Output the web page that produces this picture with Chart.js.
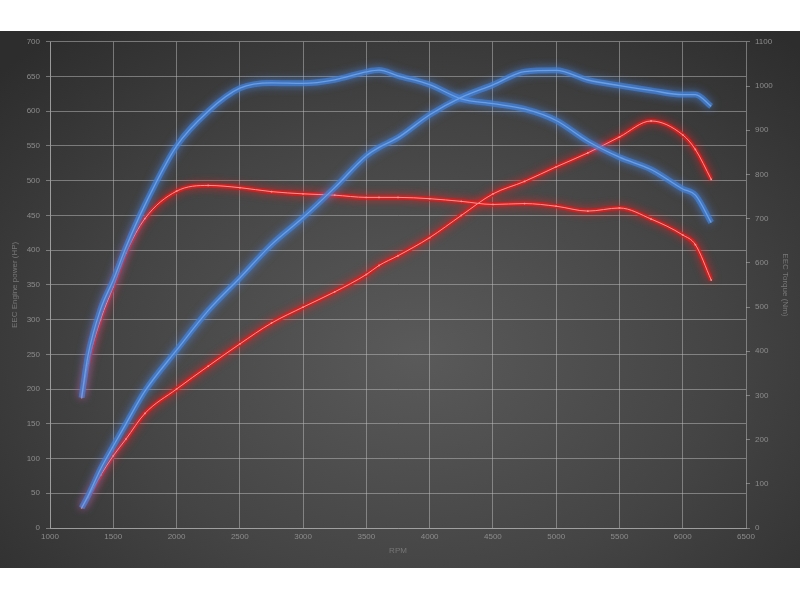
<!DOCTYPE html>
<html>
<head>
<meta charset="utf-8">
<script src="https://cdn.jsdelivr.net/npm/chart.js@4.4.0/dist/chart.umd.min.js"></script>
<style>
html, body { margin: 0; padding: 0; background: #fff; }
#wrap {
    position: absolute; left: 0; top: 31px; width: 800px; height: 537px;
    background: radial-gradient(ellipse 70% 78% at 52% 60%, #5a5a5a 0%, #444 55%, #2d2d2d 100%);
}
canvas { display: block; }
</style>
</head>
<body>
<div id="wrap"><canvas id="dyno" width="800" height="537"></canvas></div>
<script>
// Dyno run: rpm steps and curves
const rpm = [1250, 1300, 1400, 1500, 1600, 1750, 2000, 2250, 2500, 2750, 3000, 3250, 3500, 3600, 3750, 4000, 4250, 4500, 4750, 5000, 5250, 5500, 5750, 6000, 6100, 6225];

// power in HP (left axis)
const powerBlue = [29, 46, 85, 118, 150, 197, 256, 313, 360, 408, 447, 490, 536, 548, 562, 595, 620, 638, 657, 659, 645, 637, 630, 624, 624, 607];
const powerRed = [29, 44, 76, 104, 128, 165, 200, 233, 265, 295, 318, 340, 365, 378, 392, 418, 450, 481, 499, 520, 540, 563, 586, 566, 545, 502];

// torque in Nm (right axis)
const torqueBlue = [295, 390, 495, 561, 635, 731, 864, 943, 995, 1007, 1006, 1014, 1032, 1036, 1023, 1003, 971, 960, 948, 922, 875, 839, 811, 767, 753, 691];
const torqueRed = [295, 372, 472, 546, 622, 700, 762, 775, 770, 761, 756, 753, 748, 748, 748, 745, 739, 732, 734, 728, 717, 724, 699, 663, 641, 561];

const xTicks = [1000, 6500, 500];
const hpTicks = [0, 700, 50];
const nmTicks = [0, 1100, 100];

function points(values) {
    return rpm.map((r, i) => ({ x: r, y: values[i] }));
}

// soft glow behind the lines
const glowPlugin = {
    id: 'glow',
    beforeDatasetDraw(chart, args) {
        const ds = chart.data.datasets[args.index];
        chart.ctx.save();
        if (ds.glowColor) {
            chart.ctx.shadowColor = ds.glowColor;
            chart.ctx.shadowBlur = ds.glowBlur || 8;
        }
    },
    afterDatasetDraw(chart) {
        chart.ctx.restore();
    }
};

function glowLine(values, axis, color, glow, width, order) {
    return {
        data: points(values), yAxisID: axis,
        borderColor: color, borderWidth: width,
        glowColor: glow, glowBlur: 9,
        pointRadius: 0, cubicInterpolationMode: 'monotone',
        order: order
    };
}

function coreLine(values, axis, color, width, dots, order) {
    return {
        data: points(values), yAxisID: axis,
        borderColor: color, borderWidth: width,
        pointRadius: dots ? 0.9 : 0, pointBackgroundColor: color, pointBorderWidth: 0,
        cubicInterpolationMode: 'monotone',
        order: order
    };
}

const plain = v => v; // no thousands separator on the ticks

Chart.defaults.font.family = "'Liberation Sans', Arial, sans-serif";
Chart.defaults.font.size = 8;
Chart.defaults.color = '#8c8c8c';

const gridColor = 'rgba(190, 190, 190, 0.5)';

const ctx = document.getElementById('dyno').getContext('2d');
const dynoChart = new Chart(ctx, {
    type: 'line',
    data: {
        datasets: [
            coreLine(powerBlue, 'y', '#6c9fe2', 1.3, false, 1),
            coreLine(torqueBlue, 'y1', '#6c9fe2', 1.3, false, 1),
            glowLine(powerBlue, 'y', 'rgba(66, 128, 218, 0.75)', 'rgba(80, 150, 255, 0.85)', 6, 2),
            glowLine(torqueBlue, 'y1', 'rgba(66, 128, 218, 0.75)', 'rgba(80, 150, 255, 0.85)', 6, 2),
            coreLine(powerRed, 'y', '#ff9292', 1, true, 3),
            coreLine(torqueRed, 'y1', '#ff9292', 1, true, 3),
            glowLine(powerRed, 'y', 'rgba(220, 30, 30, 0.85)', 'rgba(255, 30, 30, 0.9)', 4.5, 4),
            glowLine(torqueRed, 'y1', 'rgba(220, 30, 30, 0.85)', 'rgba(255, 30, 30, 0.9)', 4.5, 4),
        ],
    },
    options: {
        responsive: false,
        animation: false,
        layout: { padding: { top: 3 } },
        plugins: { legend: { display: false }, tooltip: { enabled: false } },
        scales: {
            x: {
                type: 'linear',
                min: xTicks[0], max: xTicks[1],
                ticks: { stepSize: xTicks[2], padding: 4, maxRotation: 0, callback: plain },
                grid: { color: gridColor, drawTicks: false },
                border: { color: gridColor },
                title: { display: true, text: 'RPM', color: '#777', padding: { top: 4, bottom: 12 } },
                afterFit(s) { s.height = 40; },
            },
            y: {
                position: 'left',
                min: hpTicks[0], max: hpTicks[1],
                ticks: { stepSize: hpTicks[2], padding: 6, callback: plain },
                grid: { color: gridColor, tickLength: 4 },
                border: { color: gridColor },
                title: { display: true, text: 'EEC Engine power (HP)', color: '#777', padding: { top: 10 } },
                afterFit(s) { s.width = 50; },
            },
            y1: {
                position: 'right',
                min: nmTicks[0], max: nmTicks[1],
                ticks: { stepSize: nmTicks[2], padding: 5, callback: plain },
                grid: { color: gridColor, drawOnChartArea: false, tickLength: 4 },
                border: { display: false },
                title: { display: true, text: 'EEC Torque (Nm)', color: '#777', padding: { top: 10 } },
                afterFit(s) { s.width = 54; },
            },
        },
    },
    plugins: [glowPlugin],
});
</script>
</body>
</html>
